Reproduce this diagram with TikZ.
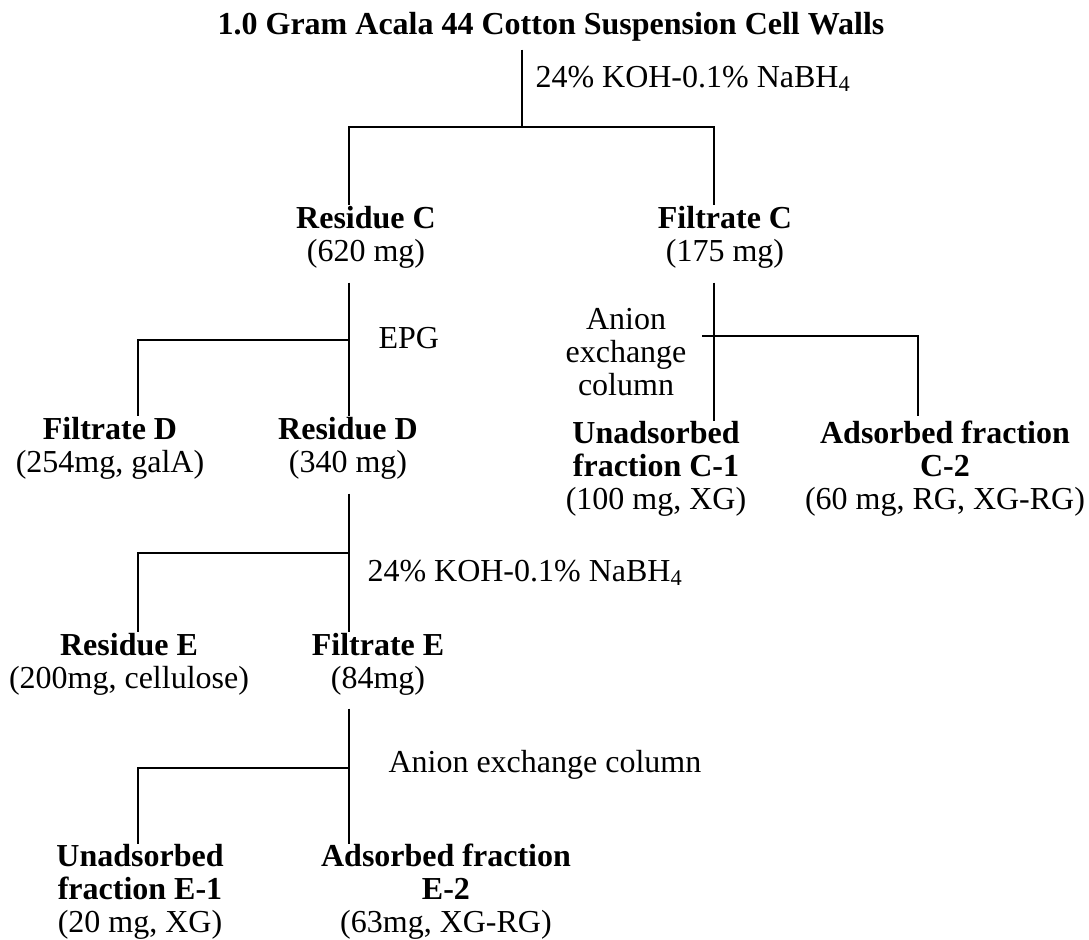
\documentclass[tikz,border=0pt]{standalone}
\usepackage{fontspec}
\setmainfont{Liberation Serif}
\usetikzlibrary{positioning,calc}

\begin{document}
\begin{tikzpicture}[x=0.4pt, y=-0.4pt,
		lbl/.style={align=center, inner sep=0pt, font=\fontsize{12.8}{13.2}\selectfont},
		cond/.style={anchor=west, inner sep=0pt, font=\fontsize{12.8}{13.2}\selectfont},
		vline/.style={line width=0.5pt},
		hline/.style={line width=1pt, line cap=rect}]
			\useasboundingbox (0,0) rectangle (1089,940);
			
			% starting material
			\node[lbl] (title) at (551,27) {\textbf{1.0 Gram Acala 44 Cotton Suspension Cell Walls}};
			\node[cond] (koh1) at (535,79) {24\% KOH-0.1\% NaBH\textsubscript{4}};
			
			% first split
			\node[lbl] (resC) at (366,237) {\textbf{Residue C}\\(620 mg)};
			\node[lbl] (filC) at (725,237) {\textbf{Filtrate C}\\(175 mg)};
			
			% EPG on residue C
			\node[cond] (epg) at (378,338) {EPG};
			\node[lbl] (filD) at (110,448) {\textbf{Filtrate D}\\(254mg, galA)};
			\node[lbl] (resD) at (348,448) {\textbf{Residue D}\\(340 mg)};
			
			% column on filtrate C
			\node[lbl] (anion1) at (626,352) {Anion\\exchange\\column};
			\node[lbl] (unC1) at (656,469) {\textbf{Unadsorbed}\\\textbf{fraction C-1}\\(100 mg, XG)};
			\node[lbl] (adC2) at (945,469) {\textbf{Adsorbed fraction}\\\textbf{C-2}\\(60 mg, RG, XG-RG)};
			
			% alkali on residue D
			\node[cond] (koh2) at (367,573) {24\% KOH-0.1\% NaBH\textsubscript{4}};
			\node[lbl] (resE) at (129,664) {\textbf{Residue E}\\(200mg, cellulose)};
			\node[lbl] (filE) at (378,664) {\textbf{Filtrate E}\\(84mg)};
			
			% column on filtrate E
			\node[cond] (anion2) at (388,765) {Anion exchange column};
			\node[lbl] (unE1) at (140,892) {\textbf{Unadsorbed}\\\textbf{fraction E-1}\\(20 mg, XG)};
			\node[lbl] (adE2) at (446,892) {\textbf{Adsorbed fraction}\\\textbf{E-2}\\(63mg, XG-RG)};
			
			% junctions
			\coordinate (s1) at (522,127);
			\coordinate (s1l) at (349,127);
			\coordinate (s1r) at (714,127);
			\coordinate (s2) at (349,340);
			\coordinate (s2l) at (138,340);
			\coordinate (s3) at (714,336);
			\coordinate (s3r) at (918,336);
			\coordinate (s4) at (349,553);
			\coordinate (s4l) at (138,553);
			\coordinate (s5) at (349,768);
			\coordinate (s5l) at (138,768);
			
			% connectors
			\draw[vline, shorten <=3pt] (title.south -| s1) -- (s1);
			\draw[hline] (s1l) -- (s1r);
			\draw[vline] (s1l) -- (resC.north -| s1l);
			\draw[vline] (s1r) -- (filC.north -| s1r);
			
			\draw[vline, shorten <=5.6pt] (resC.south -| s2) -- (resD.north -| s2);
			\draw[hline] (s2l) -- (s2);
			\draw[vline] (s2l) -- (filD.north -| s2l);
			
			\draw[vline, shorten <=5.6pt] (filC.south -| s3) -- (unC1.north -| s3);
			\draw[hline, shorten <=-4.4pt] (s3) -- (s3r);
			\draw[vline, shorten >=2pt] (s3r) -- (adC2.north -| s3r);
			
			\draw[vline, shorten <=5.6pt] (resD.south -| s4) -- (filE.north -| s4);
			\draw[hline] (s4l) -- (s4);
			\draw[vline] (s4l) -- (resE.north -| s4l);
			
			\draw[vline, shorten <=5.2pt] (filE.south -| s5) -- (adE2.north -| s5);
			\draw[hline] (s5l) -- (s5);
			\draw[vline] (s5l) -- (unE1.north -| s5l);
\end{tikzpicture}
\end{document}
